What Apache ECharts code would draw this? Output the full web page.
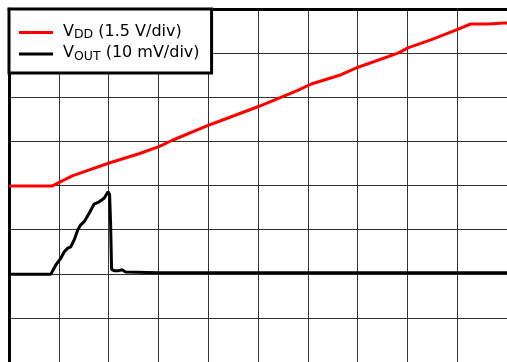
<!DOCTYPE html>
<html>
<head>
<meta charset="utf-8">
<script src="https://cdn.jsdelivr.net/npm/echarts@6/dist/echarts.min.js"></script>
<style>
  html, body { margin: 0; padding: 0; background: #fff; }
  #chart { width: 507px; height: 362px; }
</style>
</head>
<body>
<div id="chart"></div>
<script>
// time in divisions (0..10), level in divisions from bottom (0..8)
const vddTime = [0, 0.61, 0.87, 1.27, 2.01, 2.61, 3.01, 3.27, 4.01, 4.21, 5.01, 5.81, 6.07, 6.67, 7.01, 7.81, 8.01, 8.47, 9.01, 9.27, 9.61, 9.95, 10]
const vddValue = [3.99, 3.99, 3.99, 4.22, 4.51, 4.72, 4.88, 5.02, 5.37, 5.45, 5.79, 6.16, 6.30, 6.51, 6.68, 7.00, 7.12, 7.30, 7.54, 7.66, 7.66, 7.68, 7.68]

const voutTime = [0, 0.61, 0.84, 0.94, 1.04, 1.11, 1.18, 1.24, 1.31, 1.38, 1.44, 1.51, 1.61, 1.71, 1.81, 1.91, 1.99, 2.02, 2.04, 2.06, 2.11, 2.21, 2.27, 2.34, 3, 5, 7, 10]
const voutValue = [1.99, 1.99, 1.99, 2.20, 2.35, 2.50, 2.58, 2.61, 2.77, 2.99, 3.11, 3.18, 3.37, 3.58, 3.63, 3.71, 3.86, 3.79, 3.15, 2.10, 2.07, 2.07, 2.09, 2.04, 2.02, 2.02, 2.02, 2.02]

const legendLabels = {
  VDD: '{f|V}{s|DD}{m| (1.5 V/div)}',
  VOUT: '{f|V}{s|OUT}{m| (10 mV/div)}'
}

const pairs = (xs, ys) => xs.map((x, i) => [x, ys[i]])

const chart = echarts.init(document.getElementById('chart'))

const gridLine = { show: true, lineStyle: { color: '#333', width: 1 } }
const font = 'DejaVu Sans'

chart.setOption({
  animation: false,
  backgroundColor: '#fff',
  grid: { left: 9, right: -2, top: 9, bottom: 0 },
  legend: {
    orient: 'vertical',
    left: 9,
    top: 9,
    padding: [14.5, 12, 10, 10],
    itemGap: 3.5,
    itemWidth: 34,
    itemHeight: 3,
    icon: 'rect',
    backgroundColor: '#fff',
    borderColor: '#000',
    borderWidth: 3,
    borderRadius: 0,
    data: ['VDD', 'VOUT'],
    formatter: name => legendLabels[name],
    textStyle: {
      rich: {
        f: { fontFamily: font, fontSize: 16, color: '#000', verticalAlign: 'bottom', padding: [0, 0, 2, 5] },
        m: { fontFamily: font, fontSize: 16, color: '#000', verticalAlign: 'bottom', padding: [0, 0, 2, 0] },
        s: { fontFamily: font, fontSize: 12.5, color: '#000', verticalAlign: 'bottom' }
      }
    }
  },
  xAxis: {
    type: 'value',
    position: 'top',
    min: 0,
    max: 10,
    interval: 1,
    axisLine: { show: true, onZero: false, lineStyle: { color: '#000', width: 3 } },
    axisTick: { show: false },
    axisLabel: { show: false },
    splitLine: gridLine
  },
  yAxis: {
    type: 'value',
    min: 0,
    max: 8,
    interval: 1,
    axisLine: { show: true, onZero: false, lineStyle: { color: '#000', width: 3 } },
    axisTick: { show: false },
    axisLabel: { show: false },
    splitLine: gridLine
  },
  series: [
    {
      name: 'VDD',
      type: 'line',
      data: pairs(vddTime, vddValue),
      showSymbol: false,
      color: '#ff0000',
      lineStyle: { color: '#ff0000', width: 3 }
    },
    {
      name: 'VOUT',
      type: 'line',
      data: pairs(voutTime, voutValue),
      showSymbol: false,
      color: '#000',
      lineStyle: { color: '#000', width: 3 }
    }
  ]
})
</script>
</body>
</html>
